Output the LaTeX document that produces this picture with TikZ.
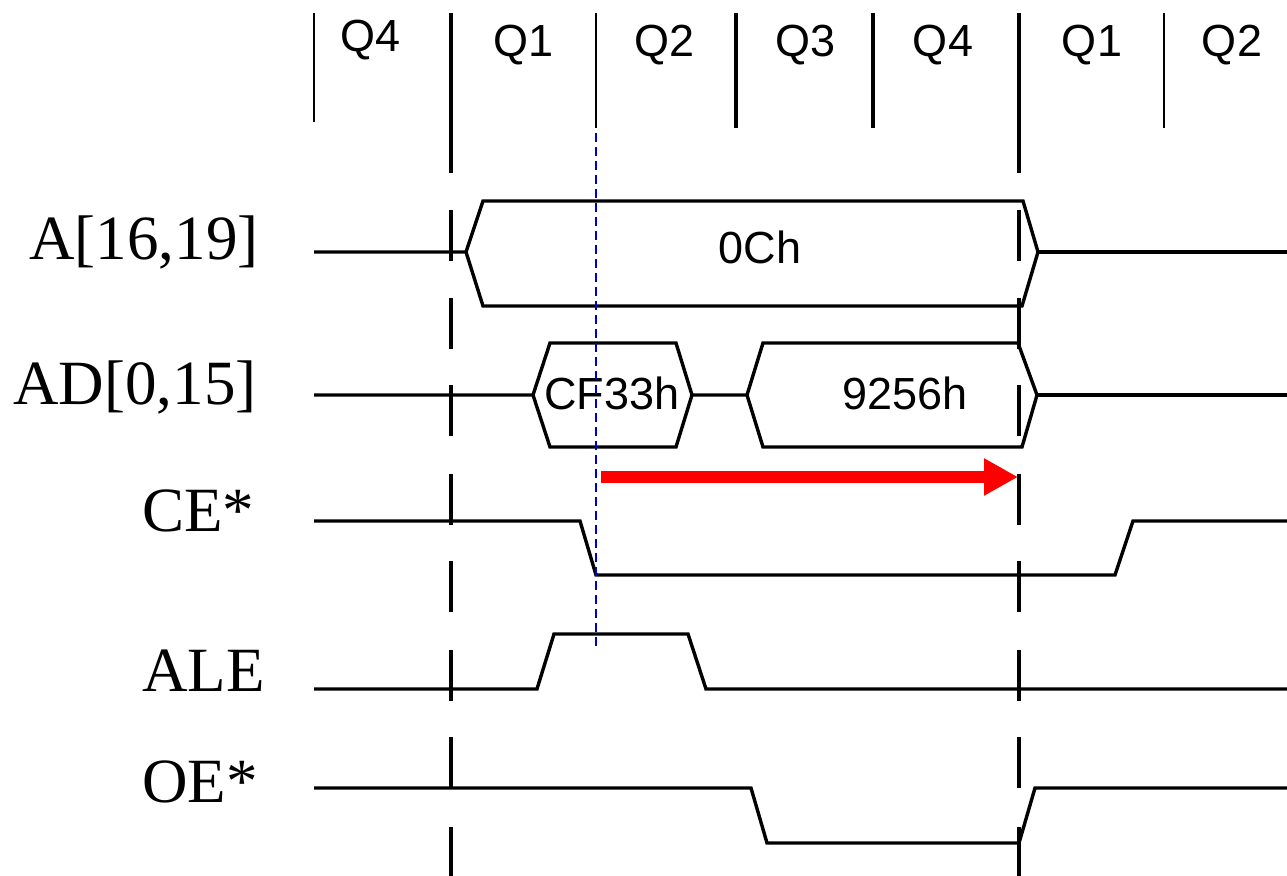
\documentclass[tikz,border=0pt]{standalone}
\usepackage{fontspec}
\newfontfamily\serifft{Liberation Serif}
\newfontfamily\sansft{Liberation Sans}
\usetikzlibrary{arrows.meta}
\begin{document}
\begin{tikzpicture}[x={(0.5pt,0)},y={(0,-0.5pt)},
  sig/.style={line width=1.7pt, line join=miter},
  septhin/.style={line width=1.1pt},
  septhick/.style={line width=2pt},
  dashv/.style={line width=2pt},
  qlab/.style={inner sep=0pt, anchor=base, font=\sansft\fontsize{22.5}{22.5}\selectfont},
  dlab/.style={inner sep=0pt, anchor=base, font=\sansft\fontsize{22.5}{22.5}\selectfont},
  slab/.style={inner sep=0pt, anchor=base west, font=\serifft\fontsize{31.5}{31.5}\selectfont},
  marker/.style={draw=blue!80!black, line width=0.9pt, dash pattern=on 4.5pt off 2.5pt},
  delay/.style={draw=red, line width=6pt, -{Triangle[length=17pt,width=17.5pt]}}]
\useasboundingbox (0,0) rectangle (1287,876);

% quarter separators
\draw[septhin] (314,13) -- (314,122);
\draw[septhin] (596,13) -- (596,128);
\draw[septhick] (736,13) -- (736,128);
\draw[septhick] (873,13) -- (873,128);
\draw[septhin] (1164,13) -- (1164,128);

% long dashed cycle boundaries
\foreach \x in {451,1019} {
  \draw[dashv] (\x,13) -- (\x,173);
  \foreach \y in {210,298,385,474,561,650,737} \draw[dashv] (\x,\y) -- (\x,\y+51);
  \draw[dashv] (\x,827) -- (\x,876);
}

% quarter labels
\node[qlab] (q4a) at (371,52) {Q4};
\node[qlab] (q1a) at (524,57) {Q1};
\node[qlab] (q2a) at (665,57) {Q2};
\node[qlab] (q3a) at (806,57) {Q3};
\node[qlab] (q4b) at (943,57) {Q4};
\node[qlab] (q1b) at (1092,57) {Q1};
\node[qlab] (q2b) at (1232,57) {Q2};

% signal names
\node[slab] (lA) at (29,260) {A[16,19]};
\node[slab] (lAD) at (13,405) {AD[0,15]};
\node[slab] (lCE) at (142,532) {CE*};
\node[slab] (lALE) at (142,692) {ALE};
\node[slab] (lOE) at (142,803) {OE*};

% A[16,19]
\draw[sig] (314,252) -- (466,252) -- (483,201) -- (1023,201) -- (1038,252) -- (1022,306) -- (483,306) -- (466,252);
\draw[sig] (1038,252) -- (1287,252);
\node[dlab] (vA) at (760,264) {0Ch};

% AD[0,15]
\draw[sig] (314,395) -- (533,395) -- (550,343) -- (676,343) -- (692,395) -- (676,447) -- (550,447) -- (533,395);
\draw[sig] (692,395) -- (747,395) -- (763,343) -- (1018,343) -- (1037,395) -- (1022,447) -- (763,447) -- (747,395);
\draw[sig] (1037,395) -- (1287,395);
\node[dlab] (vAD1) at (612,410) {CF33h};
\node[dlab] (vAD2) at (905,410) {9256h};

% CE*
\draw[sig] (314,521) -- (580,521) -- (596,575) -- (1115,575) -- (1133,521) -- (1287,521);

% ALE
\draw[sig] (314,689) -- (537,689) -- (554,634) -- (688,634) -- (706,689) -- (1287,689);

% OE*
\draw[sig] (314,788) -- (751,788) -- (767,843) -- (1019,843) -- (1035,788) -- (1287,788);

% marker and delay arrow
\coordinate (mtop) at (596,133);
\coordinate (mbot) at (596,647);
\draw[marker] (mtop) -- (mbot);
\coordinate (dstart) at (601,477);
\coordinate (dend) at (1018,477);
\draw[delay] (dstart) -- (dend);
\end{tikzpicture}
\end{document}
